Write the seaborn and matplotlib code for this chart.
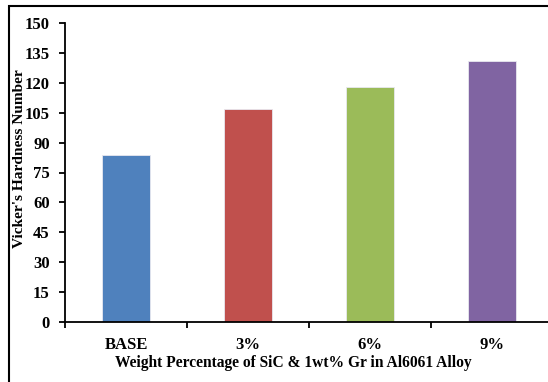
import matplotlib
matplotlib.use("Agg")
import matplotlib.pyplot as plt
from matplotlib.patches import Rectangle
from matplotlib.ticker import FixedLocator
import seaborn as sns
import pandas as pd

# Hardness of the base alloy and the reinforced composites
categories = ["BASE", "3%", "6%", "9%"]
hardness = [84, 107, 118, 131]
colors = ["#4F81BD", "#C0504D", "#9BBB59", "#8064A2"]
y_ticks = [0, 15, 30, 45, 60, 75, 90, 105, 120, 135, 150]

sns.set_theme(style="white")
plt.rcParams["font.family"] = ["Liberation Serif", "DejaVu Serif"]
plt.rcParams["font.weight"] = "bold"

df = pd.DataFrame({"Composition": categories, "Hardness": hardness})

fig = plt.figure(figsize=(5.48, 3.82), dpi=100)
ax = fig.add_axes([65 / 548, 60 / 382, 488 / 548, 299 / 382])

sns.barplot(data=df, x="Composition", y="Hardness", hue="Composition",
            palette=colors, width=0.4, legend=False, ax=ax,
            edgecolor="#e8e8f0", linewidth=0.6, saturation=1)

ax.set_xlim(-0.5, 3.5)
ax.set_ylim(0, 150)
ax.set_yticks(y_ticks)

for side in ("top", "right"):
    ax.spines[side].set_visible(False)
for side in ("left", "bottom"):
    ax.spines[side].set_color("black")
    ax.spines[side].set_linewidth(1.3)

# category labels without marks, separating marks between categories
ax.tick_params(axis="x", which="major", length=0, pad=11, labelsize=12,
               colors="black")
ax.xaxis.set_minor_locator(FixedLocator([-0.5, 0.5, 1.5, 2.5, 3.5]))
ax.tick_params(axis="x", which="minor", direction="out", length=4,
               width=1.3, color="black", bottom=True)
ax.tick_params(axis="y", direction="out", length=4, width=1.3,
               color="black", pad=7, labelsize=12, left=True)
for lab in ax.get_xticklabels() + ax.get_yticklabels():
    lab.set_fontweight("bold")
    lab.set_color("black")

ax.set_xlabel("Weight Percentage of SiC & 1wt% Gr in Al6061 Alloy",
              fontsize=11.2, fontweight="bold", color="black")
ax.set_ylabel("Vicker's Hardness Number", fontsize=11.1, fontweight="bold",
              color="black")
ax.xaxis.set_label_coords(0.467, -0.11)
ax.yaxis.set_label_coords(-0.08, 0.548)

# outer frame around the chart area
fig.patches.append(Rectangle((9 / 548, -0.2), 1.2, (382 - 6) / 382 + 0.2,
                             transform=fig.transFigure, fill=False,
                             edgecolor="black", linewidth=1.5))

fig.savefig("out.png", dpi=100)
